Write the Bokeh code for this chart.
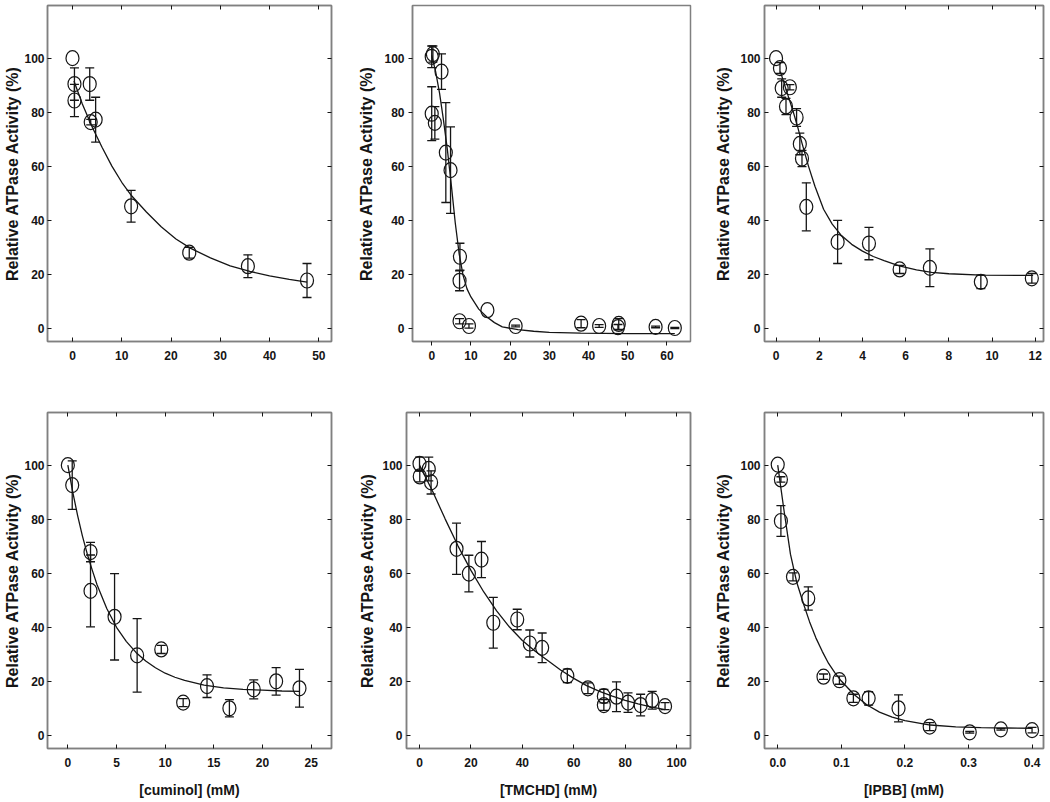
from bokeh.plotting import figure
from bokeh.models import (ColumnDataSource, Whisker, TeeHead, LinearAxis, FixedTicker, Range1d,
                          CustomLabelingPolicy)
from bokeh.layouts import column, row
from bokeh.embed import file_html
from bokeh.resources import INLINE

# ---------------- data ----------------
y_ticks = [0, 20, 40, 60, 80, 100]
y_label = "Relative ATPase Activity (%)"

# Panel A (top left)
a_ticks = [0, 10, 20, 30, 40, 50]
a_x = [0, 0.4, 0.4, 3.5, 3.7, 4.7, 11.9, 23.7, 35.6, 47.6]
a_y = [100, 90.4, 84.3, 90.4, 76.3, 77.2, 45.1, 27.9, 22.9, 17.6]
a_err = [0, 6, 6, 6, 1, 8.3, 5.9, 2, 4.2, 6.3]
ca_x = [0.3, 2, 4, 6, 8, 10, 12, 15, 18, 21, 24, 28, 32, 36, 40, 44, 47.6]
ca_y = [91.5, 83, 74.5, 67, 60, 54, 49, 43, 37.5, 33, 29.5, 26, 23, 21, 19.3, 18, 17]

# Panel B (top middle)
b_ticks = [0, 10, 20, 30, 40, 50, 60]
b_x = [0, 0.3, 2.5, 0, 0.8, 3.6, 4.8, 7.2, 7.1, 7.1, 9.5, 14.2, 21.4, 38.1, 42.7, 47.7, 47.5, 57.1, 62]
b_y = [100.5, 101.5, 95, 79.4, 76, 65, 58.5, 26.4, 17.5, 2.5, 0.75, 6.6, 0.75, 1.6, 0.75, 1.5, 0.3, 0.4, 0]
b_err = [4, 3, 6.6, 10, 6, 18.5, 16, 5, 3.7, 1, 0.8, 0, 0.3, 1.5, 0.5, 2, 1, 0.3, 0.2]
cb_x = [0, 1, 2, 3, 4, 5, 6, 7, 8, 9, 10, 12, 14, 16, 18, 22, 26, 30, 38, 50, 62]
cb_y = [101, 95, 87, 77, 66, 53, 39, 27.5, 19.5, 14.5, 11.5, 7, 4.2, 2, 0.4, -0.6, -1.2, -1.6, -1.9, -2.1, -2.1]

# Panel C (top right)
c_ticks = [0, 2, 4, 6, 8, 10, 12]
c_x = [0, 0.18, 0.26, 0.64, 0.46, 0.95, 1.1, 1.2, 1.4, 2.85, 4.3, 5.72, 7.12, 9.48, 11.84]
c_y = [100, 96.3, 88.9, 89.2, 82.1, 78, 68.2, 62.8, 44.9, 31.9, 31.3, 21.7, 22.3, 17.1, 18.4]
c_err = [0, 2, 3.4, 1, 3, 3.3, 4, 3, 8.9, 8, 6, 1.5, 7, 2.5, 1.8]
cc_x = [0.2, 0.5, 0.8, 1.0, 1.2, 1.5, 1.8, 2.2, 2.6, 3.0, 3.5, 4.0, 4.5, 5.0, 5.7, 6.5, 7.2, 8.0, 9.5, 11.9]
cc_y = [95, 87.5, 80, 74.5, 68.5, 60, 52.5, 44, 38.5, 34.5, 31, 28.5, 26.5, 25, 23, 21.5, 20.6, 20.1, 19.6, 19.5]

# Panel D (bottom left, cuminol)
d_ticks = [0, 5, 10, 15, 20, 25]
d_x = [0, 0.45, 2.33, 2.33, 4.8, 7.12, 9.6, 11.85, 14.3, 16.6, 19.1, 21.4, 23.8]
d_y = [100, 92.6, 67.8, 53.4, 43.8, 29.5, 31.7, 12, 18.1, 9.9, 16.9, 19.9, 17.3]
d_err = [0, 9, 3.6, 13.3, 16, 13.6, 1.5, 1.5, 4.2, 3.2, 3.5, 5.1, 7]
cd_x = [0, 0.5, 1, 1.5, 2, 2.5, 3, 4, 5, 6, 7, 8, 9, 10, 11, 12, 14, 16, 18, 20, 22, 23.8]
cd_y = [100, 90.1, 81.4, 73.7, 67, 61.2, 55.7, 46.9, 39.9, 34.7, 30.6, 27.4, 24.9, 22.9, 21.4, 20.2, 18.5, 17.5, 16.9, 16.6, 16.3, 16.2]

# Panel E (bottom middle, TMCHD)
e_ticks = [0, 20, 40, 60, 80, 100]
e_x = [0, 0.1, 3.6, 4.5, 14.4, 19.2, 24.1, 28.7, 38, 42.9, 47.7, 57.5, 65.5, 71.7, 71.7, 76.6, 81.1, 86, 90.5, 95.5]
e_y = [100.5, 95.8, 98.6, 93.6, 69, 59.8, 65, 41.6, 42.8, 33.9, 32.3, 21.9, 17.3, 14.4, 11.1, 14.2, 12, 11.1, 12.9, 10.7]
e_err = [2.5, 2, 4.4, 4.3, 9.5, 6.8, 6.7, 9.4, 3.8, 5, 5.5, 2.5, 2, 2.5, 2, 5.5, 3.6, 4, 3.3, 1.3]
ce_x = [0, 5, 10, 15, 20, 25, 30, 35, 40, 45, 50, 55, 60, 65, 70, 75, 80, 85, 90, 95.5]
ce_y = [100, 90.5, 80, 70, 61, 53, 46, 40, 35, 31, 27.5, 24, 21, 18.3, 16.2, 14.4, 12.8, 11.5, 10.4, 9.4]

# Panel F (bottom right, IPBB)
f_ticks = [0, 0.1, 0.2, 0.3, 0.4]
f_tick_labels = ["0.0", "0.1", "0.2", "0.3", "0.4"]
f_x = [0, 0.005, 0.005, 0.024, 0.048, 0.072, 0.097, 0.119, 0.143, 0.19, 0.239, 0.302, 0.351, 0.4]
f_y = [100.2, 94.7, 79.3, 58.6, 50.6, 21.6, 20.3, 13.6, 13.6, 9.9, 3.1, 1.0, 2.1, 1.8]
f_err = [0, 1, 5.7, 1.5, 4.3, 1, 1.5, 1.5, 2.5, 5, 1.5, 0.3, 0.3, 1]
cf_x = [0, 0.01, 0.02, 0.03, 0.04, 0.05, 0.06, 0.07, 0.08, 0.09, 0.1, 0.12, 0.14, 0.16, 0.18, 0.2, 0.24, 0.28, 0.32, 0.36, 0.4]
cf_y = [100, 83, 67, 56.5, 49, 42, 36, 31, 26.5, 23, 20, 15, 11.2, 8.5, 6.6, 5.3, 3.7, 3.0, 2.7, 2.6, 2.5]

x_labels = ["", "", "", "[cuminol] (mM)", "[TMCHD] (mM)", "[IPBB] (mM)"]

# ---------------- styling ----------------
FRAME = "#808080"
INK = "#151515"
FONT = "Liberation Sans"

NO_LABELS = CustomLabelingPolicy(code="""
for (const i of indices) { indices.unset(i) }
return indices
""")


def panel(xr, xt, xtl, px, py, perr, cx, cy, xlab, width, height, mb, ylab_standoff,
          ytick_standoff=4, tick_in=True):
    p = figure(width=width, height=height, x_range=Range1d(*xr), y_range=Range1d(-5, 119.5),
               output_backend="svg", toolbar_location=None,
               min_border_left=mb[0], min_border_right=mb[1],
               min_border_top=mb[2], min_border_bottom=mb[3])
    p.xgrid.visible = False
    p.ygrid.visible = False
    p.outline_line_color = FRAME
    p.outline_line_width = 1.5
    p.background_fill_color = "white"
    p.border_fill_color = "white"

    overrides = {t: l for t, l in zip(xt, xtl)}
    for ax, ticks in ((p.xaxis[0], xt), (p.yaxis[0], y_ticks)):
        ax.ticker = FixedTicker(ticks=ticks)
        ax.minor_tick_line_color = None
        ax.axis_line_color = FRAME
        ax.axis_line_width = 1.5
        ax.major_tick_line_color = INK
        ax.major_tick_line_width = 1
        ax.major_tick_in = 4 if tick_in else 0
        ax.major_tick_out = 0 if tick_in else 4
        ax.major_label_text_font = FONT
        ax.major_label_text_font_style = "bold"
        ax.major_label_text_font_size = "12px"
        ax.major_label_text_color = INK
    p.xaxis[0].major_label_overrides = overrides
    p.xaxis[0].major_label_standoff = 9 if tick_in else 5
    p.yaxis[0].major_label_standoff = ytick_standoff
    p.yaxis[0].axis_label = y_label
    p.yaxis[0].axis_label_text_font = FONT
    p.yaxis[0].axis_label_text_font_style = "bold"
    p.yaxis[0].axis_label_text_font_size = "16px"
    p.yaxis[0].axis_label_text_color = INK
    p.yaxis[0].axis_label_standoff = ylab_standoff
    if xlab:
        p.xaxis[0].axis_label = xlab
        p.xaxis[0].axis_label_text_font = FONT
        p.xaxis[0].axis_label_text_font_style = "bold"
        p.xaxis[0].axis_label_text_font_size = "14px"
        p.xaxis[0].axis_label_text_color = INK
        p.xaxis[0].axis_label_standoff = 12

    if tick_in:
        for ticks, side in ((xt, "above"), (y_ticks, "right")):
            ax = LinearAxis(ticker=FixedTicker(ticks=ticks), major_tick_in=4, major_tick_out=0,
                            major_label_policy=NO_LABELS, major_label_standoff=0,
                            major_label_text_font_size="1px",
                            axis_line_color=FRAME, axis_line_width=1.5,
                            minor_tick_line_color=None, major_tick_line_color=INK)
            p.add_layout(ax, side)

    # error bars
    keep = [i for i, e in enumerate(perr) if e > 0]
    src_e = ColumnDataSource(dict(x=[px[i] for i in keep],
                                  upper=[py[i] + perr[i] for i in keep],
                                  lower=[py[i] - perr[i] for i in keep]))
    w = Whisker(source=src_e, base="x", upper="upper", lower="lower",
                line_color=INK, line_width=1.3,
                upper_head=TeeHead(size=9, line_color=INK, line_width=1.3),
                lower_head=TeeHead(size=9, line_color=INK, line_width=1.3))
    p.add_layout(w)

    # fitted curve
    p.line(cx, cy, line_color=INK, line_width=1.3)

    # open circle markers
    src_p = ColumnDataSource(dict(x=px, y=py))
    p.ellipse(x="x", y="y", width=13, height=15, width_units="screen", height_units="screen",
              source=src_p, fill_color=None, line_color=INK, line_width=1.2)
    return p


# layout (fixed pixel geometry; the page has no margin)
TOP_H, BOT_H = 374, 426
pA = panel((-5.07, 52.57), a_ticks, [str(t) for t in a_ticks], a_x, a_y, a_err, ca_x, ca_y, x_labels[0],
           355, TOP_H, (47, 24, 5, 33), 0, 3)
pB = panel((-4.9, 66.0), b_ticks, [str(t) for t in b_ticks], b_x, b_y, b_err, cb_x, cb_y, x_labels[1],
           357, TOP_H, (56, 22, 5, 33), 6, 4, tick_in=False)
pC = panel((-0.535, 12.38), c_ticks, [str(t) for t in c_ticks], c_x, c_y, c_err, cc_x, cc_y, x_labels[2],
           336, TOP_H, (52, 1, 5, 33), 5)
pD = panel((-2.09, 27.09), d_ticks, [str(t) for t in d_ticks], d_x, d_y, d_err, cd_x, cd_y, x_labels[3],
           355, BOT_H, (47, 24, 38, 52), 0, 3)
pE = panel((-5.06, 105.4), e_ticks, [str(t) for t in e_ticks], e_x, e_y, e_err, ce_x, ce_y, x_labels[4],
           357, BOT_H, (51, 22, 38, 52), 3)
pF = panel((-0.0208, 0.418), f_ticks, f_tick_labels, f_x, f_y, f_err, cf_x, cf_y, x_labels[5],
           336, BOT_H, (52, 1, 38, 52), 5)

layout = column(row(pA, pB, pC), row(pD, pE, pF))
open("out.html", "w").write(file_html(layout, INLINE))
